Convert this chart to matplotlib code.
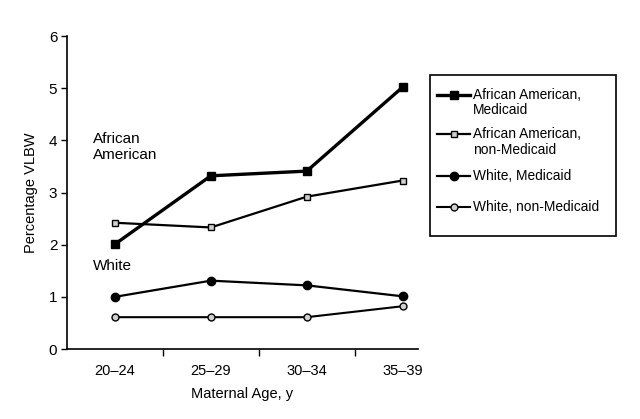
import matplotlib
matplotlib.use("Agg")
import matplotlib.pyplot as plt
from matplotlib.lines import Line2D
from matplotlib.patches import Rectangle
import numpy as np

plt.rcParams['font.family'] = ['Liberation Sans', 'DejaVu Sans']

categories = ["20–24", "25–29", "30–34", "35–39"]
aa_medicaid = [2.01, 3.32, 3.41, 5.02]
aa_non_medicaid = [2.42, 2.33, 2.92, 3.23]
white_medicaid = [1.00, 1.31, 1.22, 1.01]
white_non_medicaid = [0.61, 0.61, 0.61, 0.82]
labels = ["African American,\nMedicaid", "African American,\nnon-Medicaid",
          "White, Medicaid", "White, non-Medicaid"]

W, H = 640, 419
fig = plt.figure(figsize=(6.4, 4.19), dpi=100)
ax = fig.add_axes([67 / W, 1 - 349 / H, (418 - 67) / W, (349 - 36) / H])

styles = [
    dict(color='black', lw=2.4, marker='s', ms=5.5, mfc='black', mec='black'),
    dict(color='black', lw=1.6, marker='s', ms=5, mfc='#cfcfcf', mec='black', mew=1.0),
    dict(color='black', lw=1.6, marker='o', ms=6, mfc='black', mec='black'),
    dict(color='black', lw=1.5, marker='o', ms=5, mfc='#cfcfcf', mec='black', mew=1.0),
]
series = [aa_medicaid, aa_non_medicaid, white_medicaid, white_non_medicaid]

x = np.arange(len(categories))
for vals, st, lab in zip(series, styles, labels):
    ax.plot(x, vals, label=lab, **st)

ax.set_xlim(-0.5, 3.16)
ax.set_ylim(0, 6)
ax.set_yticks(range(7))
ax.set_xticks(x)
ax.set_xticklabels(categories)
ax.set_xticks([0.5, 1.5, 2.5], minor=True)
ax.tick_params(axis='x', which='major', length=0, pad=11, labelsize=10.5)
ax.tick_params(axis='x', which='minor', length=5, direction='out', width=1)
ax.tick_params(axis='y', length=4, direction='out', width=1, labelsize=11, pad=3)
for s in ['top', 'right']:
    ax.spines[s].set_visible(False)
for s in ['left', 'bottom']:
    ax.spines[s].set_linewidth(1.2)

ax.set_ylabel("Percentage VLBW", fontsize=10.5, labelpad=8)
ax.set_xlabel("Maternal Age, y", fontsize=10.5, labelpad=6)

ax.text(-0.23, 3.87, "African\nAmerican", fontsize=11, va='center', ha='left', linespacing=1.25)
ax.text(-0.23, 1.6, "White", fontsize=11, va='center', ha='left')

# legend box drawn by hand so that each handle lines up with the first text line
fig.add_artist(Rectangle((430 / W, 1 - 236 / H), 186 / W, 161 / H, transform=fig.transFigure,
                         fill=False, edgecolor='black', lw=1.2))
handle_y = [95, 134, 176, 207]
for lab, st, hy in zip(labels, styles, handle_y):
    yf = 1 - hy / H
    fig.add_artist(Line2D([437 / W, 453.5 / W, 470 / W], [yf, yf, yf], transform=fig.transFigure,
                          markevery=[1], **st))
    for i, line in enumerate(lab.split("\n")):
        fig.text(473 / W, 1 - (hy + 15.5 * i) / H, line, fontsize=9.9, va='center', ha='left')

fig.savefig("out.png", dpi=100)
